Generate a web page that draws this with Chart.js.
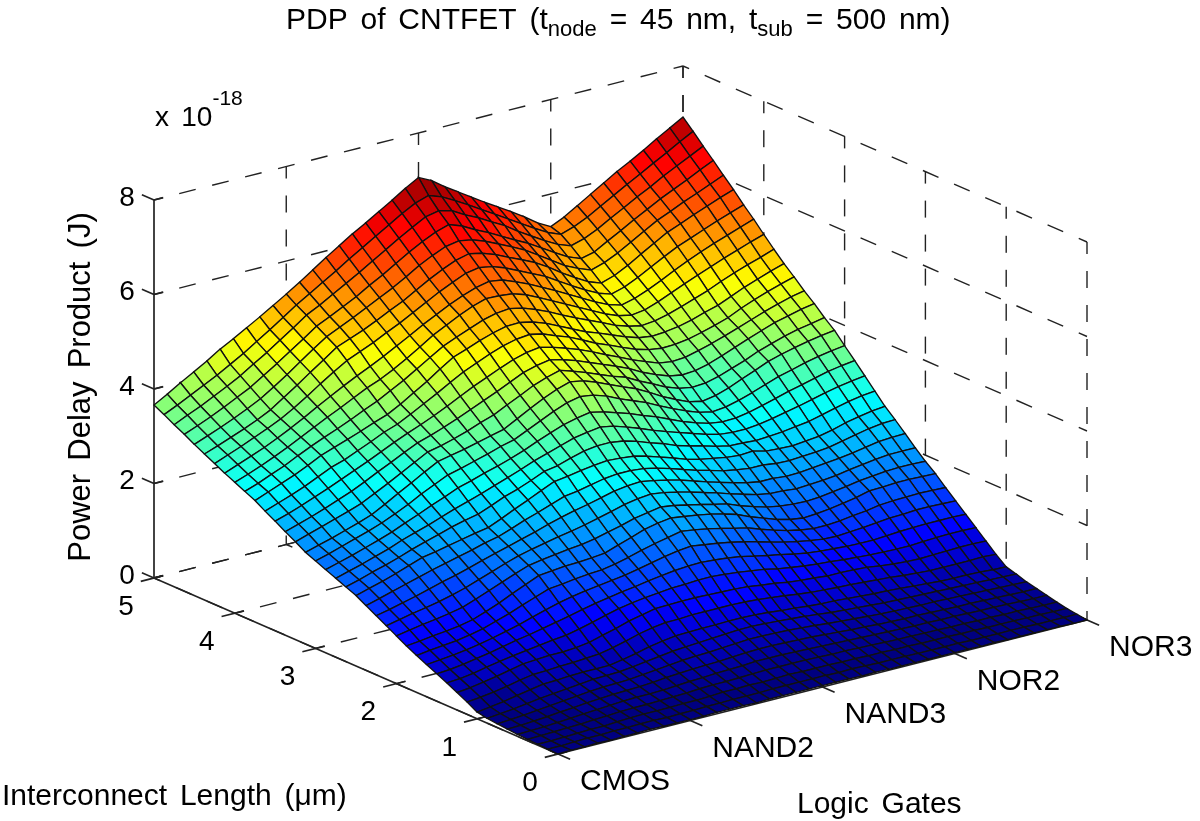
<!DOCTYPE html>
<html>
<head>
<meta charset="utf-8">
<title>PDP of CNTFET</title>
<script src="https://cdn.jsdelivr.net/npm/chart.js@4"></script>
<style>
  html, body { margin: 0; padding: 0; background: #fff; }
  canvas { display: block; }
</style>
</head>
<body>
<canvas id="surface" width="1200" height="821"></canvas>
<script>
// --- Data ---
const gateLabels = ['CMOS', 'NAND2', 'NAND3', 'NOR2', 'NOR3'];
const lengthTicks = [0, 1, 2, 3, 4, 5];
const pdpTicks = [0, 2, 4, 6, 8];

// PDP in units of 1e-20 J. Rows run from 0 to 5 um in 1/8 um steps, columns from CMOS to NOR3 in 1/10 gate steps.
const pdpGrid = [
[0,1,1,2,1,2,2,3,2,2,2,2,3,3,3,2,3,3,3,3,3,3,3,2,3,2,2,2,2,2,2,2,1,2,1,1,1,1,1,0,0],
[1,1,2,3,3,4,4,5,5,4,5,5,6,6,7,7,7,8,8,8,8,8,7,8,7,6,6,6,5,5,5,5,4,4,4,4,4,3,3,3,3],
[2,2,3,4,5,5,7,8,9,9,9,10,10,11,13,13,14,13,14,15,14,14,14,13,13,12,12,11,11,10,10,10,9,9,8,8,8,7,7,6,6],
[3,4,5,6,7,9,10,12,13,13,14,15,16,18,19,19,20,21,22,22,22,22,21,20,20,19,18,17,16,16,15,15,14,14,13,13,12,12,11,10,10],
[4,5,6,8,10,12,14,16,18,19,19,20,22,24,25,27,28,29,31,31,31,30,29,28,27,26,25,24,23,22,21,21,20,20,19,18,18,17,16,15,15],
[6,7,9,11,14,16,19,21,23,24,25,27,30,32,34,35,36,38,40,41,41,40,39,38,36,34,32,31,29,28,27,27,26,25,24,24,23,22,21,20,20],
[8,10,12,15,18,21,24,27,29,30,31,34,37,40,43,45,46,48,50,52,52,51,50,48,46,43,41,39,37,35,34,33,32,32,31,30,29,28,27,26,25],
[10,13,16,20,24,27,30,33,36,37,38,41,45,49,53,55,57,59,61,63,63,62,60,58,56,53,50,48,46,44,42,41,40,39,38,37,36,35,34,33,32],
[14,18,22,28,33,38,39,41,42,42,42,47,53,60,65,69,70,71,71,72,72,71,69,66,64,61,59,58,56,54,52,51,49,47,45,43,42,42,41,39,38],
[26,29,33,38,44,49,50,52,53,55,57,63,70,78,84,88,88,90,90,90,90,89,87,84,81,77,74,72,70,69,67,65,63,60,58,56,56,56,56,57,55],
[37,40,45,50,56,62,64,66,66,68,72,80,87,96,102,108,109,110,110,109,108,107,105,101,98,93,90,88,85,85,84,82,78,75,73,72,73,74,75,75,74],
[48,50,54,60,65,70,74,78,82,85,91,98,106,113,118,122,125,128,129,131,131,129,126,122,118,112,108,104,101,99,96,94,92,91,90,90,92,93,94,94,93],
[58,60,64,69,74,80,86,91,97,103,109,116,122,127,132,136,141,145,149,151,152,150,147,143,137,131,126,120,115,112,110,108,107,107,109,111,112,113,113,113,112],
[68,71,74,78,83,89,96,103,112,120,128,134,139,143,147,151,157,163,169,174,177,173,169,164,158,151,143,136,130,125,121,120,122,124,127,130,131,133,133,132,131],
[78,82,85,88,93,99,108,117,128,138,148,151,155,158,160,165,172,180,187,193,199,195,190,184,177,171,161,152,144,138,134,134,136,140,143,148,150,151,152,151,150],
[89,92,96,99,103,109,119,130,143,155,167,170,173,174,176,179,189,198,208,214,218,214,210,205,198,190,178,168,158,151,147,149,152,157,162,169,170,172,172,171,170],
[101,106,111,115,120,126,136,147,158,169,179,184,188,192,195,200,207,214,222,227,232,228,222,216,209,203,192,183,175,170,167,166,168,172,176,181,184,187,188,188,187],
[113,119,125,130,136,143,151,161,171,181,190,197,203,209,214,220,227,234,242,247,250,246,240,233,225,217,208,200,192,187,186,183,185,187,190,195,199,203,206,206,206],
[125,131,138,145,153,161,168,176,185,193,201,209,217,226,234,241,247,254,261,265,267,262,256,249,240,231,223,215,208,203,203,200,201,204,207,210,214,219,224,226,227],
[137,145,153,161,169,177,184,191,198,206,212,222,233,242,252,262,266,272,278,281,281,278,272,264,255,246,239,231,226,222,222,218,217,219,221,224,230,236,242,246,247],
[149,157,165,174,184,194,199,205,211,217,222,234,247,259,272,284,288,293,297,300,298,295,288,279,270,260,253,248,243,240,242,235,233,232,235,238,244,252,258,263,266],
[158,166,175,183,192,202,211,219,228,235,241,252,264,273,284,296,301,310,318,322,322,318,310,300,291,280,272,265,257,251,250,248,250,252,256,260,267,274,281,286,289],
[167,175,183,192,201,212,221,230,240,250,259,268,278,288,298,309,318,327,336,341,345,340,331,321,310,300,291,282,273,266,263,263,266,271,277,283,290,297,303,308,312],
[176,184,192,201,210,220,232,243,255,266,278,286,295,303,312,322,334,345,355,362,367,361,352,343,332,322,310,298,288,280,276,277,282,289,297,305,312,319,326,331,335],
[185,193,202,211,220,230,242,255,270,283,296,303,311,319,328,335,348,361,374,385,391,387,378,365,354,343,329,316,304,294,288,291,298,307,317,327,334,342,348,353,357],
[194,202,210,219,228,238,253,269,284,300,315,321,327,334,341,348,363,378,392,404,413,408,398,386,374,363,348,332,319,307,301,306,315,327,338,350,358,365,371,376,380],
[207,216,225,234,243,253,267,281,296,311,326,332,340,349,360,369,383,396,410,420,428,419,409,398,387,378,363,350,336,326,321,323,330,340,350,362,371,380,387,392,398],
[219,228,237,247,258,269,282,296,309,323,336,345,355,366,378,390,402,415,428,436,441,434,425,414,403,392,380,365,353,343,338,340,347,357,368,379,389,399,406,413,418],
[232,241,251,262,273,285,297,309,322,335,347,358,370,383,397,411,423,435,446,454,458,451,442,432,420,407,395,382,371,361,357,359,366,374,383,393,403,413,422,430,436],
[244,254,264,275,288,301,310,322,334,347,357,371,386,401,417,432,444,456,466,473,476,470,459,449,436,422,411,399,388,380,376,377,381,388,396,405,418,429,439,448,456],
[257,268,279,290,303,317,327,337,347,358,368,383,400,417,436,454,464,475,484,491,492,486,476,463,450,437,427,416,405,396,392,394,398,405,414,422,434,446,456,466,475],
[267,277,289,300,314,327,339,350,362,375,387,402,417,434,451,468,480,491,502,509,512,506,496,484,470,457,445,433,420,411,405,408,415,424,434,444,456,467,477,486,496],
[277,287,298,310,323,337,351,365,378,392,406,417,431,447,464,482,496,510,522,531,530,527,518,505,491,477,463,449,435,424,418,422,432,444,456,467,478,489,499,509,518],
[287,298,309,320,333,347,362,378,393,408,422,435,449,464,479,495,509,523,535,545,551,547,536,524,510,496,481,466,451,438,430,437,448,461,475,488,500,511,521,531,541],
[298,309,320,332,344,357,373,391,410,428,445,457,469,483,496,511,526,541,554,566,571,566,556,543,530,517,500,483,467,453,444,452,465,480,495,509,520,531,542,552,562],
[309,319,330,341,353,367,386,405,425,444,464,475,486,499,513,526,542,558,572,584,591,585,575,562,550,537,520,501,484,468,458,467,481,498,514,530,541,553,564,575,585],
[320,331,342,354,367,381,399,418,438,458,477,490,503,517,531,545,561,578,592,604,609,604,594,581,568,554,536,518,500,487,476,485,498,514,530,546,558,571,582,594,606],
[332,343,355,368,382,396,414,432,451,470,490,503,517,531,548,563,580,597,612,625,634,624,609,596,581,566,552,535,518,502,491,498,514,529,545,560,575,588,601,615,628],
[343,356,368,382,396,411,429,446,465,484,504,518,534,550,566,583,600,617,633,648,654,647,631,618,602,587,568,551,534,519,509,517,530,546,561,577,591,607,621,635,649],
[355,368,382,396,410,426,442,460,478,497,516,533,550,567,585,602,619,636,653,668,677,667,652,636,619,602,585,568,551,535,524,533,546,562,578,594,609,625,640,656,671],
[366,382,399,415,431,449,464,480,496,513,530,548,567,586,604,622,638,655,672,690,706,692,672,654,636,618,601,584,566,546,531,544,561,578,595,612,627,643,660,676,692]
];

// --- View of the 3D box ---
const project = (gate, length, pdp) => ({
  x: 558 + (gate - 1) / 4 * 529 - length / 5 * 404,
  y: 754 - (gate - 1) / 4 * 134 - length / 5 * 176 - pdp * 47.25,
});

// Jet colormap with 64 steps, as the original surface uses
const jetColor = (value, max) => {
  const t = Math.min(Math.floor(value / max * 64), 63) / 63;
  const clamp = (v) => Math.round(Math.max(0, Math.min(1, v)) * 255);
  const r = clamp(Math.min(4 * t - 1.5, -4 * t + 4.5));
  const g = clamp(Math.min(4 * t - 0.5, -4 * t + 3.5));
  const b = clamp(Math.min(4 * t + 0.5, -4 * t + 2.5));
  return `rgb(${r},${g},${b})`;
};

const pdpMax = Math.max(...pdpGrid.flat());
const datasets = [];

const gateAt = (i) => 1 + i / 10;
const lengthAt = (j) => j / 8;

// Chart.js paints the last dataset first, so front facets go in first
for (let j = 0; j < pdpGrid.length - 1; j++) {
  for (let i = 0; i < pdpGrid[j].length - 1; i++) {
    const corners = [[i, j], [i + 1, j], [i + 1, j + 1], [i, j + 1], [i, j]];
    datasets.push({
      data: corners.map(([a, b]) => project(gateAt(a), lengthAt(b), pdpGrid[b][a] / 100)),
      showLine: true,
      fill: 'shape',
      backgroundColor: jetColor(pdpGrid[j][i], pdpMax),
      borderColor: '#111',
      borderWidth: 1.35,
      pointRadius: 0,
      clip: false,
    });
  }
}

const addLine = (from, to, dashed) => {
  datasets.push({
    data: [project(...from), project(...to)],
    showLine: true,
    fill: false,
    borderColor: '#222',
    borderWidth: dashed ? 1.4 : 1.7,
    borderDash: dashed ? [17, 17] : [],
    borderDashOffset: dashed ? 8 : 0,
    pointRadius: 0,
    clip: false,
  });
};

const zTop = pdpTicks[pdpTicks.length - 1];
const lengthEnd = lengthTicks[lengthTicks.length - 1];
const gateEnd = gateLabels.length;

// --- Axis lines and ticks ---
addLine([1, 0, 0], [gateEnd, 0, 0], false);
addLine([1, 0, 0], [1, lengthEnd, 0], false);
addLine([1, lengthEnd, 0], [1, lengthEnd, zTop], false);
pdpTicks.forEach((z) => {
  addLine([1, lengthEnd, z], [1, lengthEnd + 0.15, z], false);
  addLine([1, lengthEnd, z], [1.07, lengthEnd, z], false);
});
lengthTicks.forEach((l) => addLine([0.9, l, 0], [1.07, l, 0], false));
gateLabels.forEach((_, k) => addLine([k + 1, -0.15, 0], [k + 1, 0.12, 0], false));

// --- Dashed grid on the floor and the two back walls ---
lengthTicks.slice(1).forEach((l) => {
  addLine([1, l, 0], [gateEnd, l, 0], true);
  addLine([gateEnd, l, 0], [gateEnd, l, zTop], true);
});
addLine([gateEnd, 0, 0], [gateEnd, 0, zTop], true);
gateLabels.forEach((_, k) => {
  addLine([k + 1, 0, 0], [k + 1, lengthEnd, 0], true);
  if (k > 0) addLine([k + 1, lengthEnd, 0], [k + 1, lengthEnd, zTop], true);
});
pdpTicks.forEach((z) => {
  addLine([1, lengthEnd, z], [gateEnd, lengthEnd, z], true);
  addLine([gateEnd, 0, z], [gateEnd, lengthEnd, z], true);
});

// --- Texts ---
const drawRuns = (ctx, x, y, runs) => {
  let cursor = x;
  runs.forEach(([text, size, shift]) => {
    ctx.font = `${size}px "Liberation Sans"`;
    ctx.fillText(text, cursor, y + shift);
    cursor += ctx.measureText(text).width;
  });
};

const textPlugin = {
  id: 'surfaceTexts',
  afterDraw(chart) {
    const { ctx, scales } = chart;
    const px = (p) => ({ x: scales.x.getPixelForValue(p.x), y: scales.y.getPixelForValue(p.y) });
    ctx.save();
    ctx.fillStyle = '#000';
    ctx.textBaseline = 'alphabetic';
    ctx.wordSpacing = '4.5px';

    drawRuns(ctx, 286, 29, [
      ['PDP of CNTFET (t', 30, 0], ['node', 22, 7], [' = 45 nm, t', 30, 0], ['sub', 22, 7], [' = 500 nm)', 30, 0],
    ]);
    drawRuns(ctx, 155, 126, [['x 10', 28, 0], ['-18', 21, -21]]);

    ctx.font = '28px "Liberation Sans"';
    ctx.textBaseline = 'middle';
    ctx.textAlign = 'center';
    pdpTicks.forEach((z) => {
      const p = px(project(1, lengthEnd, z));
      ctx.fillText(String(z), p.x - 27, p.y - 2);
    });
    lengthTicks.forEach((l) => {
      const p = px(project(1, l, 0));
      ctx.fillText(String(l), p.x - 28, p.y + 29);
    });

    ctx.font = '30px "Liberation Sans"';
    ctx.textAlign = 'left';
    gateLabels.forEach((label, k) => {
      const p = px(project(k + 1, 0, 0));
      ctx.fillText(label, p.x + 22, p.y + 28);
    });

    ctx.textBaseline = 'alphabetic';
    ctx.fillText('Interconnect Length (\u03bcm)', 2, 805);
    ctx.fillText('Logic Gates', 797, 813);

    ctx.font = '31px "Liberation Sans"';
    ctx.translate(90, 387);
    ctx.rotate(-Math.PI / 2);
    ctx.textAlign = 'center';
    ctx.fillText('Power Delay Product (J)', 0, 0);
    ctx.restore();
  },
};

new Chart(document.getElementById('surface'), {
  type: 'scatter',
  data: { datasets },
  options: {
    responsive: false,
    animation: false,
    events: [],
    layout: { padding: 0 },
    plugins: { legend: { display: false }, tooltip: { enabled: false } },
    scales: {
      x: { type: 'linear', display: false, min: 0, max: 1200 },
      y: { type: 'linear', display: false, min: 0, max: 821, reverse: true },
    },
  },
  plugins: [textPlugin],
});
</script>
</body>
</html>
